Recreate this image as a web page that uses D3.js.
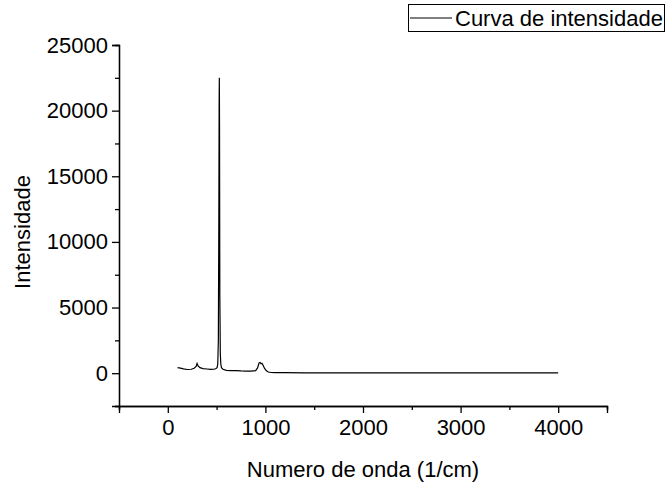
<!DOCTYPE html>
<html>
<head>
<meta charset="utf-8">
<script src="https://cdn.jsdelivr.net/npm/d3@7"></script>
<style>
  body { margin: 0; background: #fff; }
  svg { font-family: "Liberation Sans", Arial, sans-serif; }
</style>
</head>
<body>
<div id="chart"></div>
<script>
// spectrum
const wavenumber = [100, 130, 160, 200, 240, 270, 290, 300, 310, 330, 360, 400, 440, 470, 490, 505, 512, 518, 523, 526, 528, 530, 533, 538, 543, 550, 565, 600, 650, 700, 750, 800, 850, 900, 920, 935, 945, 955, 965, 975, 990, 1010, 1030, 1060, 1100, 1200, 1400, 1600, 1800, 2000, 2200, 2400, 2600, 2800, 3000, 3200, 3400, 3600, 3800, 4000];
const intensity = [420, 390, 330, 280, 300, 380, 520, 740, 560, 420, 350, 320, 290, 300, 340, 420, 700, 2500, 12000, 20500, 22500, 19000, 6000, 1500, 700, 420, 300, 220, 200, 190, 170, 160, 160, 190, 400, 780, 820, 720, 760, 620, 380, 180, 90, 50, 40, 35, 30, 28, 25, 26, 22, 24, 20, 22, 20, 18, 20, 17, 18, 16];

const xTicks = [0, 1000, 2000, 3000, 4000];
const xMinor = [-500, 500, 1500, 2500, 3500, 4500];
const yTicks = [0, 5000, 10000, 15000, 20000, 25000];
const yMinor = [-2500, 2500, 7500, 12500, 17500, 22500];

const W = 668, H = 486;
const X0 = 119, X1 = 607, Y0 = 406, Y1 = 45;
const FS = 22;

let svg = d3.select('#chart')
  .append('svg')
  .attr('width', W)
  .attr('height', H);

let x = d3.scaleLinear().domain([-500, 4500]).range([X0, X1]);
let y = d3.scaleLinear().domain([-2500, 25000]).range([Y0, Y1]);

// x axis
let gx = svg.append('g').attr('transform', 'translate(0,' + Y0 + ')');
gx.call(d3.axisBottom(x).tickValues(xTicks).tickSize(7).tickPadding(6).tickFormat(d3.format('d')));
gx.append('g').call(d3.axisBottom(x).tickValues(xMinor).tickSize(4).tickFormat(''));

// y axis
let gy = svg.append('g').attr('transform', 'translate(' + X0 + ',0)');
gy.call(d3.axisLeft(y).tickValues(yTicks).tickSize(7).tickPadding(4).tickFormat(d3.format('d')));
gy.append('g').call(d3.axisLeft(y).tickValues(yMinor).tickSize(4).tickFormat(''));

svg.selectAll('.domain').attr('stroke', '#000').attr('stroke-width', 1.3);
svg.selectAll('.tick line').attr('stroke', '#000').attr('stroke-width', 1.3);
svg.selectAll('.tick text').attr('fill', '#000').attr('font-size', FS)
  .attr('font-family', '"Liberation Sans", Arial, sans-serif');

// axis titles
svg.append('text')
  .attr('x', 363)
  .attr('y', 477)
  .attr('text-anchor', 'middle')
  .attr('font-size', FS)
  .text('Numero de onda (1/cm)');

svg.append('text')
  .attr('transform', 'translate(30,232) rotate(-90)')
  .attr('text-anchor', 'middle')
  .attr('font-size', FS)
  .text('Intensidade');

// the curve
let pts = wavenumber.map((w, i) => [w, intensity[i]]);
svg.append('path')
  .datum(pts)
  .attr('fill', 'none')
  .attr('stroke', '#000')
  .attr('stroke-width', 1.2)
  .attr('d', d3.line().x(d => x(d[0])).y(d => y(d[1])));

// legend
let lg = svg.append('g');
lg.append('rect')
  .attr('x', 408.5).attr('y', 4.5)
  .attr('width', 256).attr('height', 27)
  .attr('fill', '#fff').attr('stroke', '#000').attr('stroke-width', 1);
lg.append('line')
  .attr('x1', 410).attr('x2', 452)
  .attr('y1', 18).attr('y2', 18)
  .attr('stroke', '#000').attr('stroke-width', 1.2);
lg.append('text')
  .attr('x', 455).attr('y', 26)
  .attr('font-size', FS)
  .text('Curva de intensidade');
</script>
</body>
</html>
